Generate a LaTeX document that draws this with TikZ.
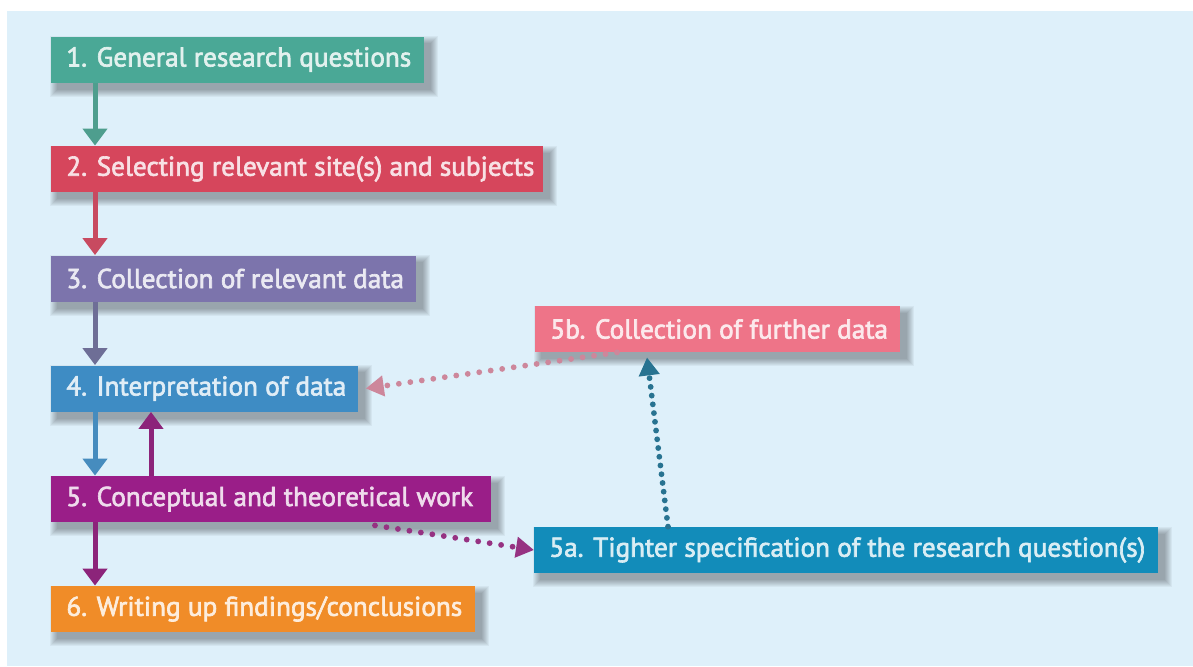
\documentclass[tikz,border=0pt]{standalone}
\usepackage{fontspec}
\setmainfont{PT Sans}[FakeBold=2.4]
\usetikzlibrary{arrows.meta,calc}

\definecolor{bg}{RGB}{222,240,250}
\definecolor{cTeal}{RGB}{74,168,150}
\definecolor{cRed}{RGB}{214,70,92}
\definecolor{cSlate}{RGB}{124,116,172}
\definecolor{cBlue}{RGB}{62,140,196}
\definecolor{cMag}{RGB}{154,30,136}
\definecolor{cDeep}{RGB}{18,140,186}
\definecolor{cPink}{RGB}{238,116,136}
\definecolor{cOrange}{RGB}{240,140,40}
\definecolor{aTeal}{RGB}{78,158,142}
\definecolor{aRed}{RGB}{200,74,96}
\definecolor{aSlate}{RGB}{110,110,150}
\definecolor{aBlue}{RGB}{70,140,190}
\definecolor{aMag}{RGB}{140,36,122}
\definecolor{dPink}{RGB}{205,135,155}
\definecolor{dMag}{RGB}{150,50,130}
\definecolor{dDeep}{RGB}{40,115,145}

\pgfdeclarelayer{panel}
\pgfdeclarelayer{shade}
\pgfsetlayers{panel,shade,main}

\newcommand\stagetext[2]{\makebox[#1][l]{#2}}

\tikzset{
  stage/.style={anchor=west, fill=#1, text=white!84!#1,
    minimum height=23pt, inner xsep=7.5pt, inner ysep=0pt,
    font=\fontsize{13.6}{15}\selectfont},
  flow/.style={line width=2.5pt, -{Triangle[width=12pt,length=8.5pt]}},
  dotline/.style={line width=2.9pt, line cap=round,
    dash pattern=on 0pt off 5.8pt, -{Triangle[width=10pt,length=9pt]}},
  softshade/.style={fill=black, opacity=0.045}
}

\begin{document}
\begin{tikzpicture}[x=0.5pt,y=-0.5pt]
  % page and light panel
  \begin{pgfonlayer}{panel}
    \fill[white] (0,0) rectangle (1193,666);
    \fill[bg] (7,11) rectangle (1193,666);
  \end{pgfonlayer}
  \useasboundingbox (0,0) rectangle (1193,666);

  % stages
  \node[stage=cTeal]   (b1)  at (51,59.5) {\stagetext{171.5pt}{1. General research questions}};
  \node[stage=cRed]    (b2)  at (51,169)  {\stagetext{231pt}{2. Selecting relevant site(s) and subjects}};
  \node[stage=cSlate]  (b3)  at (51,278.5){\stagetext{167.5pt}{3. Collection of relevant data}};
  \node[stage=cBlue]   (b4)  at (51,388.5){\stagetext{138.5pt}{4. Interpretation of data}};
  \node[stage=cPink]   (b5b) at (535,329) {\stagetext{167.5pt}{5b. Collection of further data}};
  \node[stage=cMag]    (b5)  at (51,499)  {\stagetext{205pt}{5. Conceptual and theoretical work}};
  \node[stage=cDeep]   (b5a) at (534,550) {\stagetext{297pt}{5a. Tighter specification of the research question(s)}};
  \node[stage=cOrange] (b6)  at (51,609)  {\stagetext{197pt}{6. Writing up findings/conclusions}};

  % soft drop shadows behind the stages
  \begin{pgfonlayer}{shade}
    \foreach \n in {b1,b2,b3,b4,b5b,b5,b5a,b6}
      \foreach \k in {0,...,7}
        \fill[softshade] ($(\n.north west)+(6-\k,7-\k)$) rectangle ($(\n.south east)+(6+\k,7+\k)$);
  \end{pgfonlayer}

  % columns of the vertical arrows
  \coordinate (ax) at (95,0);
  \coordinate (bx) at (151,0);

  % main sequence
  \draw[flow,aTeal]  (b1.south -| ax) -- (b2.north -| ax);
  \draw[flow,aRed]   (b2.south -| ax) -- (b3.north -| ax);
  \draw[flow,aSlate] (b3.south -| ax) -- (b4.north -| ax);
  \draw[flow,aBlue]  (b4.south -| ax) -- (b5.north -| ax);
  \draw[flow,aMag]   (b5.north -| bx) -- (b4.south -| bx);
  \draw[flow,aMag]   (b5.south -| ax) -- (b6.north -| ax);

  % iteration loop
  \draw[dotline,dMag]  ($(b5.south west)+(324,3)$) -- (b5a.west);
  \draw[dotline,dDeep,dash pattern=on 0pt off 4.4pt] ($(b5a.north west)+(134,0)$) -- ($(b5b.south west)+(112,5)$);
  \draw[dotline,dPink] ($(b5b.south west)+(82,0)$) -- ($(b4.east)+(7,0)$);
\end{tikzpicture}
\end{document}
